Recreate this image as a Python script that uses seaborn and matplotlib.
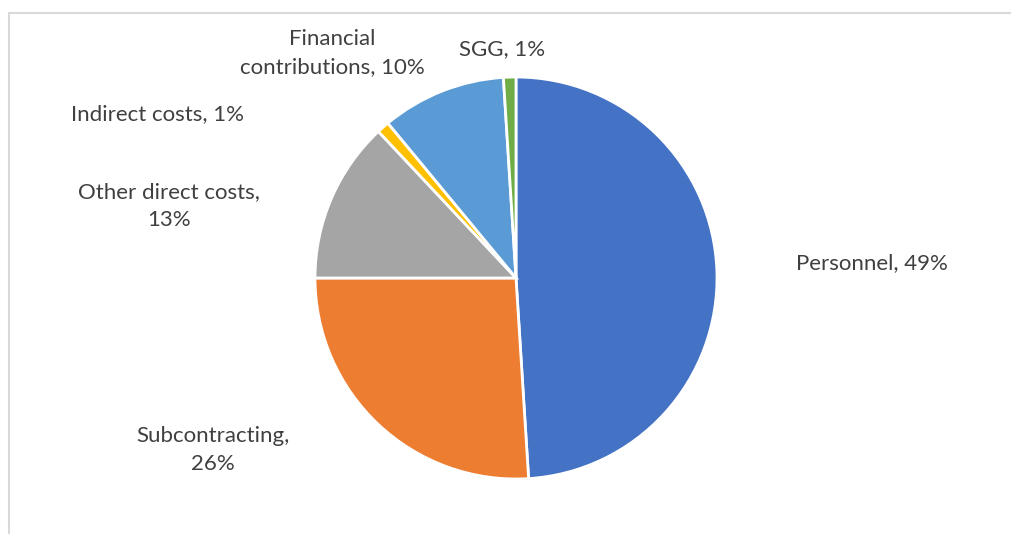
import matplotlib
matplotlib.use("Agg")
import matplotlib.pyplot as plt
import seaborn as sns

# Budget breakdown by cost category (share of total, %)
categories = ["Personnel", "Subcontracting", "Other direct costs",
              "Indirect costs", "Financial contributions", "SGG"]
shares = [49, 26, 13, 1, 10, 1]
label_texts = ["Personnel, 49%", "Subcontracting,\n26%", "Other direct costs,\n13%",
               "Indirect costs, 1%", "Financial\ncontributions, 10%", "SGG, 1%"]

sns.set_theme(style="white")
plt.rcParams["font.family"] = ["Lato", "DejaVu Sans"]

palette = sns.color_palette(["#4472C4", "#ED7D31", "#A5A5A5",
                             "#FFC000", "#5B9BD5", "#70AD47"])

W, H = 1011, 534
fig = plt.figure(figsize=(W / 100, H / 100), dpi=100)

# Chart frame (top and left border lines)
fig.add_artist(plt.Line2D([9 / W, 1.0], [1 - 13 / H, 1 - 13 / H],
                          color="#D9D9D9", lw=1.5, transform=fig.transFigure))
fig.add_artist(plt.Line2D([9 / W, 9 / W], [0, 1 - 13 / H],
                          color="#D9D9D9", lw=1.5, transform=fig.transFigure))

cx, cy, r = 516, 278, 201
ax = fig.add_axes([(cx - r) / W, (H - cy - r) / H, 2 * r / W, 2 * r / H])
ax.pie(shares, colors=palette, startangle=90, counterclock=False,
       radius=1, wedgeprops=dict(edgecolor="white", linewidth=2))
ax.set_xlim(-1, 1)
ax.set_ylim(-1, 1)
ax.set_aspect("equal")
ax.axis("off")

# Label placement in pie radius units
label_pos = [(1.771, 0.075), (-1.507, -0.856), (-1.726, 0.358),
             (-1.786, 0.816), (-0.915, 1.119), (-0.070, 1.139)]
for txt, (lx, ly) in zip(label_texts, label_pos):
    ax.text(lx, ly, txt, ha="center", va="center", fontsize=16,
            color="#404040", linespacing=1.55, clip_on=False)

fig.savefig("out.png", dpi=100)
